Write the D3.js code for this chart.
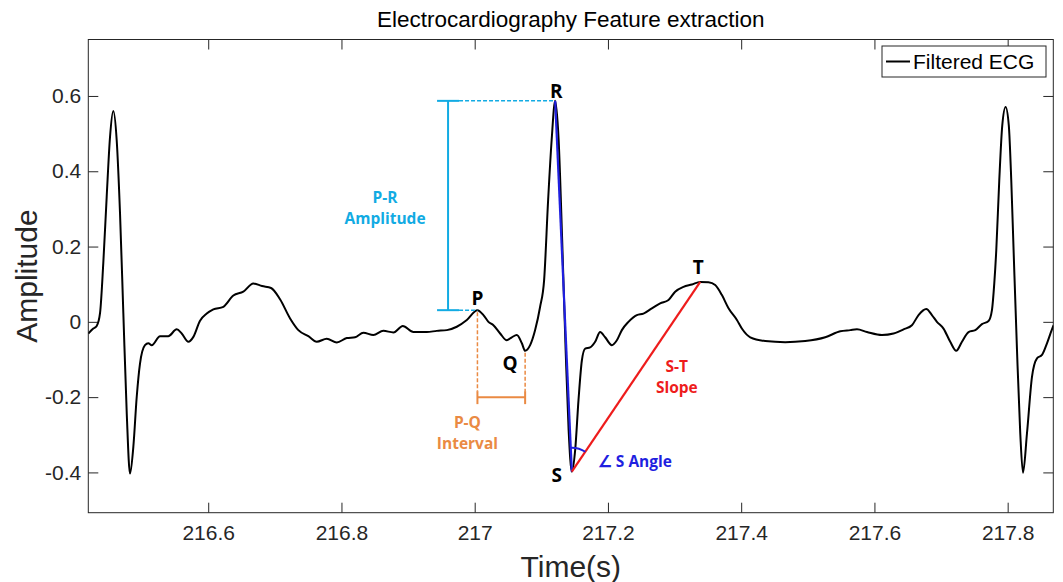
<!DOCTYPE html>
<html>
<head>
<meta charset="utf-8">
<script src="https://cdn.jsdelivr.net/npm/d3@7"></script>
<style>
  body { margin: 0; background: #fff; }
  svg { display: block; }
</style>
</head>
<body>
<div id="chart"></div>
<script>
// filtered ECG trace (time in s, amplitude)
const times = [
  216.4200, 216.4275, 216.4326, 216.4376, 216.4425, 216.4476, 216.4526, 216.4575, 216.4626, 216.4676,
  216.4726, 216.4777, 216.4826, 216.4876, 216.4927, 216.4976, 216.5051, 216.5101, 216.5152, 216.5277,
  216.5401, 216.5527, 216.5602, 216.5702, 216.5777, 216.5877, 216.5978, 216.6077, 216.6227, 216.6377,
  216.6527, 216.6677, 216.6808, 216.6943, 216.7078, 216.7229, 216.7353, 216.7503, 216.7629, 216.7780,
  216.7930, 216.8080, 216.8205, 216.8329, 216.8479, 216.8629, 216.8780, 216.8921, 216.9080, 216.9281,
  216.9431, 216.9581, 216.9731, 216.9882, 217.0041, 217.0131, 217.0206, 217.0281, 217.0382, 217.0482,
  217.0557, 217.0632, 217.0708, 217.0757, 217.0832, 217.0907, 217.0982, 217.1042, 217.1102, 217.1155,
  217.1208, 217.1260, 217.1313, 217.1365, 217.1410, 217.1458, 217.1508, 217.1558, 217.1609, 217.1658,
  217.1733, 217.1808, 217.1883, 217.1958, 217.2059, 217.2134, 217.2209, 217.2308, 217.2434, 217.2533,
  217.2659, 217.2784, 217.2909, 217.3009, 217.3134, 217.3260, 217.3385, 217.3509, 217.3610, 217.3711,
  217.3810, 217.3936, 217.4015, 217.4136, 217.4361, 217.4661, 217.4961, 217.5262, 217.5487, 217.5637,
  217.5738, 217.5888, 217.6113, 217.6287, 217.6437, 217.6563, 217.6662, 217.6778, 217.6863, 217.6938,
  217.7037, 217.7138, 217.7228, 217.7314, 217.7413, 217.7514, 217.7614, 217.7713, 217.7764, 217.7799,
  217.7829, 217.7874, 217.7919, 217.7969, 217.8017, 217.8054, 217.8089, 217.8140, 217.8189, 217.8230,
  217.8290, 217.8365, 217.8440, 217.8515, 217.8590, 217.8665, 217.8690
];
const amplitudes = [
  -0.031, -0.018, -0.011, 0.023, 0.156, 0.332, 0.491, 0.560, 0.483, 0.289,
  0.023, -0.243, -0.403, -0.332, -0.199, -0.111, -0.062, -0.057, -0.062, -0.038,
  -0.038, -0.020, -0.031, -0.053, -0.040, 0.003, 0.022, 0.033, 0.040, 0.070,
  0.080, 0.102, 0.095, 0.090, 0.060, 0.009, -0.022, -0.038, -0.053, -0.045,
  -0.055, -0.043, -0.041, -0.029, -0.035, -0.024, -0.028, -0.011, -0.027, -0.027,
  -0.024, -0.022, -0.013, 0.005, 0.031, 0.018, 0.000, -0.009, -0.031, -0.049,
  -0.041, -0.035, -0.057, -0.077, -0.062, -0.022, 0.040, 0.111, 0.323, 0.483,
  0.587, 0.483, 0.217, -0.075, -0.288, -0.398, -0.341, -0.208, -0.102, -0.071,
  -0.068, -0.053, -0.027, -0.041, -0.062, -0.049, -0.022, 0.000, 0.018, 0.022,
  0.036, 0.049, 0.058, 0.080, 0.093, 0.099, 0.106, 0.105, 0.098, 0.071,
  0.036, 0.005, -0.019, -0.041, -0.051, -0.054, -0.051, -0.041, -0.025, -0.022,
  -0.020, -0.027, -0.035, -0.031, -0.020, -0.009, 0.018, 0.034, 0.018, 0.000,
  -0.018, -0.053, -0.077, -0.053, -0.027, -0.022, -0.006, 0.002, 0.031, 0.102,
  0.190, 0.376, 0.522, 0.571, 0.522, 0.376, 0.190, -0.075, -0.296, -0.401,
  -0.296, -0.146, -0.097, -0.088, -0.057, -0.020, -0.009
];

// feature points marked on the beat
const featureNames = ["P", "Q", "R", "S", "T"];
const featureTimes = [217.0041, 217.0757, 217.1208, 217.1458, 217.3385];
const featureAmps = [0.031, -0.077, 0.587, -0.398, 0.106];

const xTicks = [216.6, 216.8, 217, 217.2, 217.4, 217.6, 217.8];
const yTicks = [-0.4, -0.2, 0, 0.2, 0.4, 0.6];

const prBarTime = 216.96;   // where the P-R amplitude bar stands
const pqBarAmp = -0.2;      // height of the P-Q interval bar

const width = 1063, height = 582;
const margin = { top: 39.5, right: 9.7, bottom: 69.3, left: 88.3 };
const ink = "#262626";
const cyan = "#12abe3", orange = "#ea8a43", blue = "#1f1fe0", red = "#ee1c1c";

const svg = d3.select("#chart").append("svg")
  .attr("width", width)
  .attr("height", height);

const x = d3.scaleLinear()
  .domain([216.42, 217.8685])
  .range([margin.left, width - margin.right]);
const y = d3.scaleLinear()
  .domain([-0.507, 0.75])
  .range([height - margin.bottom, margin.top]);

const fmt = d => String(+d.toFixed(1));

// axes, MATLAB style: ticks inside on all four sides
const axes = svg.append("g").attr("font-family", "'Liberation Sans', Arial, sans-serif");

axes.append("g")
  .attr("transform", `translate(0,${y.range()[0]})`)
  .call(d3.axisBottom(x).tickValues(xTicks).tickFormat(fmt).tickSize(-10).tickSizeOuter(0).tickPadding(12))
  .call(g => g.select(".domain").remove());
axes.append("g")
  .attr("transform", `translate(0,${y.range()[1]})`)
  .call(d3.axisTop(x).tickValues(xTicks).tickFormat("").tickSize(-10).tickSizeOuter(0))
  .call(g => g.select(".domain").remove());
axes.append("g")
  .attr("transform", `translate(${x.range()[0]},0)`)
  .call(d3.axisLeft(y).tickValues(yTicks).tickFormat(fmt).tickSize(-10).tickSizeOuter(0).tickPadding(7))
  .call(g => g.select(".domain").remove());
axes.append("g")
  .attr("transform", `translate(${x.range()[1]},0)`)
  .call(d3.axisRight(y).tickValues(yTicks).tickFormat("").tickSize(-10).tickSizeOuter(0))
  .call(g => g.select(".domain").remove());

axes.selectAll(".tick line").attr("stroke", ink);
axes.selectAll(".tick text").attr("fill", ink).attr("font-size", 21);

axes.append("rect")
  .attr("x", x.range()[0]).attr("y", y.range()[1])
  .attr("width", x.range()[1] - x.range()[0])
  .attr("height", y.range()[0] - y.range()[1])
  .attr("fill", "none").attr("stroke", ink).attr("stroke-width", 1);

// title and axis labels
svg.append("text")
  .attr("x", (x.range()[0] + x.range()[1]) / 2).attr("y", 27)
  .attr("text-anchor", "middle")
  .attr("font-family", "'Liberation Sans', Arial, sans-serif")
  .attr("font-size", 22.5).attr("fill", "#000")
  .text("Electrocardiography Feature extraction");
svg.append("text")
  .attr("x", (x.range()[0] + x.range()[1]) / 2).attr("y", 577)
  .attr("text-anchor", "middle")
  .attr("font-family", "'Liberation Sans', Arial, sans-serif")
  .attr("font-size", 30).attr("fill", ink)
  .text("Time(s)");
svg.append("text")
  .attr("transform", `translate(37,${(y.range()[0] + y.range()[1]) / 2}) rotate(-90)`)
  .attr("text-anchor", "middle")
  .attr("font-family", "'Liberation Sans', Arial, sans-serif")
  .attr("font-size", 30).attr("fill", ink)
  .text("Amplitude");

// the trace
svg.append("clipPath").attr("id", "plot-clip")
  .append("rect")
  .attr("x", x.range()[0]).attr("y", y.range()[1])
  .attr("width", x.range()[1] - x.range()[0])
  .attr("height", y.range()[0] - y.range()[1]);

const line = d3.line()
  .x((d, i) => x(times[i]))
  .y(d => y(d))
  .curve(d3.curveMonotoneX);

svg.append("path")
  .datum(amplitudes)
  .attr("clip-path", "url(#plot-clip)")
  .attr("fill", "none")
  .attr("stroke", "#000")
  .attr("stroke-width", 2)
  .attr("stroke-linejoin", "round")
  .attr("d", line);

// feature pixel positions
const pt = {};
featureNames.forEach((n, i) => { pt[n] = [x(featureTimes[i]), y(featureAmps[i])]; });

const notes = svg.append("g")
  .attr("font-family", "'Open Sans', 'Noto Sans', sans-serif")
  .attr("font-weight", "bold");

// P-R amplitude
const barX = x(prBarTime);
notes.append("line")
  .attr("x1", barX).attr("x2", barX).attr("y1", pt.R[1]).attr("y2", pt.P[1])
  .attr("stroke", cyan).attr("stroke-width", 2);
[["R", pt.R[1]], ["P", pt.P[1]]].forEach(([n, yy]) => {
  notes.append("line")
    .attr("x1", barX - 11).attr("x2", barX + 11).attr("y1", yy).attr("y2", yy)
    .attr("stroke", cyan).attr("stroke-width", 2);
  notes.append("line")
    .attr("x1", barX + 11).attr("x2", pt[n][0]).attr("y1", yy).attr("y2", yy)
    .attr("stroke", cyan).attr("stroke-width", 1.5).attr("stroke-dasharray", "4,2");
});
notes.selectAll("text.pr")
  .data(["P-R", "Amplitude"])
  .join("text")
  .attr("x", barX - 63).attr("y", (d, i) => 203 + i * 21)
  .attr("text-anchor", "middle")
  .attr("font-size", 15.5).attr("fill", cyan)
  .text(d => d);

// P-Q interval
const pqY = y(pqBarAmp);
["P", "Q"].forEach(n => {
  notes.append("line")
    .attr("x1", pt[n][0]).attr("x2", pt[n][0]).attr("y1", pt[n][1] + 2).attr("y2", pqY - 6)
    .attr("stroke", orange).attr("stroke-width", 1.5).attr("stroke-dasharray", "4,2");
  notes.append("line")
    .attr("x1", pt[n][0]).attr("x2", pt[n][0]).attr("y1", pqY - 6).attr("y2", pqY + 7)
    .attr("stroke", orange).attr("stroke-width", 2);
});
notes.append("line")
  .attr("x1", pt.P[0]).attr("x2", pt.Q[0]).attr("y1", pqY).attr("y2", pqY)
  .attr("stroke", orange).attr("stroke-width", 2);
notes.selectAll("text.pq")
  .data(["P-Q", "Interval"])
  .join("text")
  .attr("x", pt.P[0] - 10).attr("y", (d, i) => pqY + 31 + i * 21)
  .attr("text-anchor", "middle")
  .attr("font-size", 15.5).attr("fill", orange)
  .text(d => d);

// R-S line, S-T slope and the angle at S
notes.append("line")
  .attr("x1", pt.R[0]).attr("y1", pt.R[1]).attr("x2", pt.S[0]).attr("y2", pt.S[1])
  .attr("stroke", blue).attr("stroke-width", 2.2);
notes.append("line")
  .attr("x1", pt.S[0]).attr("y1", pt.S[1]).attr("x2", pt.T[0]).attr("y2", pt.T[1])
  .attr("stroke", red).attr("stroke-width", 2.2);

const a0 = Math.atan2(pt.R[1] - pt.S[1], pt.R[0] - pt.S[0]);
const a1 = Math.atan2(pt.T[1] - pt.S[1], pt.T[0] - pt.S[0]);
const arc = d3.path();
arc.arc(pt.S[0], pt.S[1], 24, a0, a1);
notes.append("path")
  .attr("d", arc.toString())
  .attr("fill", "none").attr("stroke", blue).attr("stroke-width", 2);

notes.append("text")
  .attr("x", pt.S[0] + 26).attr("y", pt.S[1] - 5)
  .attr("font-size", 15.5).attr("fill", blue)
  .text("∠ S Angle");
notes.selectAll("text.st")
  .data(["S-T", "Slope"])
  .join("text")
  .attr("x", pt.S[0] + 105).attr("y", (d, i) => 372 + i * 21)
  .attr("text-anchor", "middle")
  .attr("font-size", 15.5).attr("fill", red)
  .text(d => d);

// P Q R S T letters
const letterOffset = { P: [0, -12], Q: [-15, 13], R: [1, -10], S: [-15, 4], T: [-2, -15] };
notes.selectAll("text.letter")
  .data(featureNames)
  .join("text")
  .attr("x", d => pt[d][0] + letterOffset[d][0])
  .attr("y", d => pt[d][1] + letterOffset[d][1])
  .attr("text-anchor", "middle")
  .attr("dy", "0.35em")
  .attr("font-size", 19).attr("fill", "#000")
  .text(d => d);

// legend
const legend = svg.append("g").attr("transform", "translate(882,46)");
legend.append("rect")
  .attr("width", 164).attr("height", 31)
  .attr("fill", "#fff").attr("stroke", ink).attr("stroke-width", 1);
legend.append("line")
  .attr("x1", 4).attr("x2", 28).attr("y1", 15.5).attr("y2", 15.5)
  .attr("stroke", "#000").attr("stroke-width", 2);
legend.append("text")
  .attr("x", 31).attr("y", 15.5).attr("dy", "0.35em")
  .attr("font-family", "'Liberation Sans', Arial, sans-serif")
  .attr("font-size", 21).attr("fill", "#000")
  .text("Filtered ECG");
</script>
</body>
</html>
